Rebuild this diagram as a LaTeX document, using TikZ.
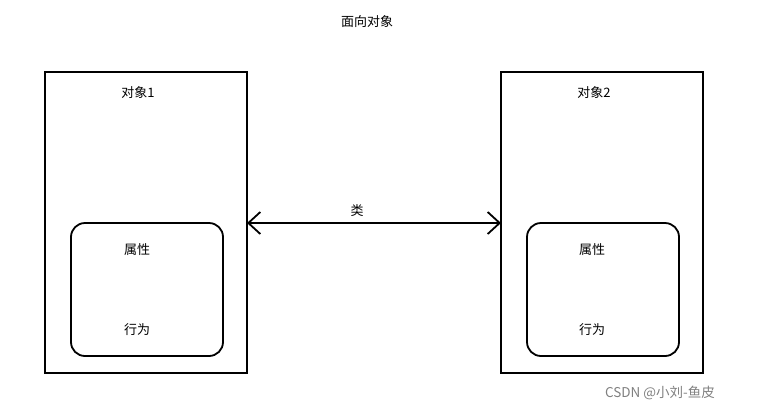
\documentclass[tikz,border=0pt]{standalone}
\usepackage{fontspec}
\setmainfont{Noto Sans CJK SC}
\usetikzlibrary{arrows.meta}
\begin{document}
\begin{tikzpicture}[x=1pt,y=-1pt,
  outer/.style={draw,line width=2.2pt},
  inner/.style={draw,line width=1.8pt,rounded corners=14pt},
  lbl/.style={font=\fontsize{13}{15}\selectfont}]
\useasboundingbox (0,0) rectangle (757,413);
\node[lbl] (title) at (367,22) {面向对象};
\draw[outer] (45,72) rectangle (247,373);
\draw[outer] (501,72) rectangle (703,373);
\coordinate (L) at (247,223);
\coordinate (R) at (501,223);
\node[lbl] (o1) at (138,93) {对象1};
\node[lbl] (o2) at (594,93) {对象2};
\draw[inner] (71,223) rectangle (223,356);
\draw[inner] (527,223) rectangle (679,356);
\node[lbl] (a1) at (137,250) {属性};
\node[lbl] (b1) at (137,330) {行为};
\node[lbl] (a2) at (592,250) {属性};
\node[lbl] (b2) at (592,330) {行为};
\draw[line width=1.8pt,{Straight Barb[length=12pt,width=22pt]}-{Straight Barb[length=12pt,width=22pt]}] (L) -- (R);
\node[lbl] (c) at (357,211) {类};
\node[lbl,text=gray,font=\fontsize{13.5}{15}\selectfont] (wm) at (660,393) {CSDN @小刘-鱼皮};
\end{tikzpicture}
\end{document}
